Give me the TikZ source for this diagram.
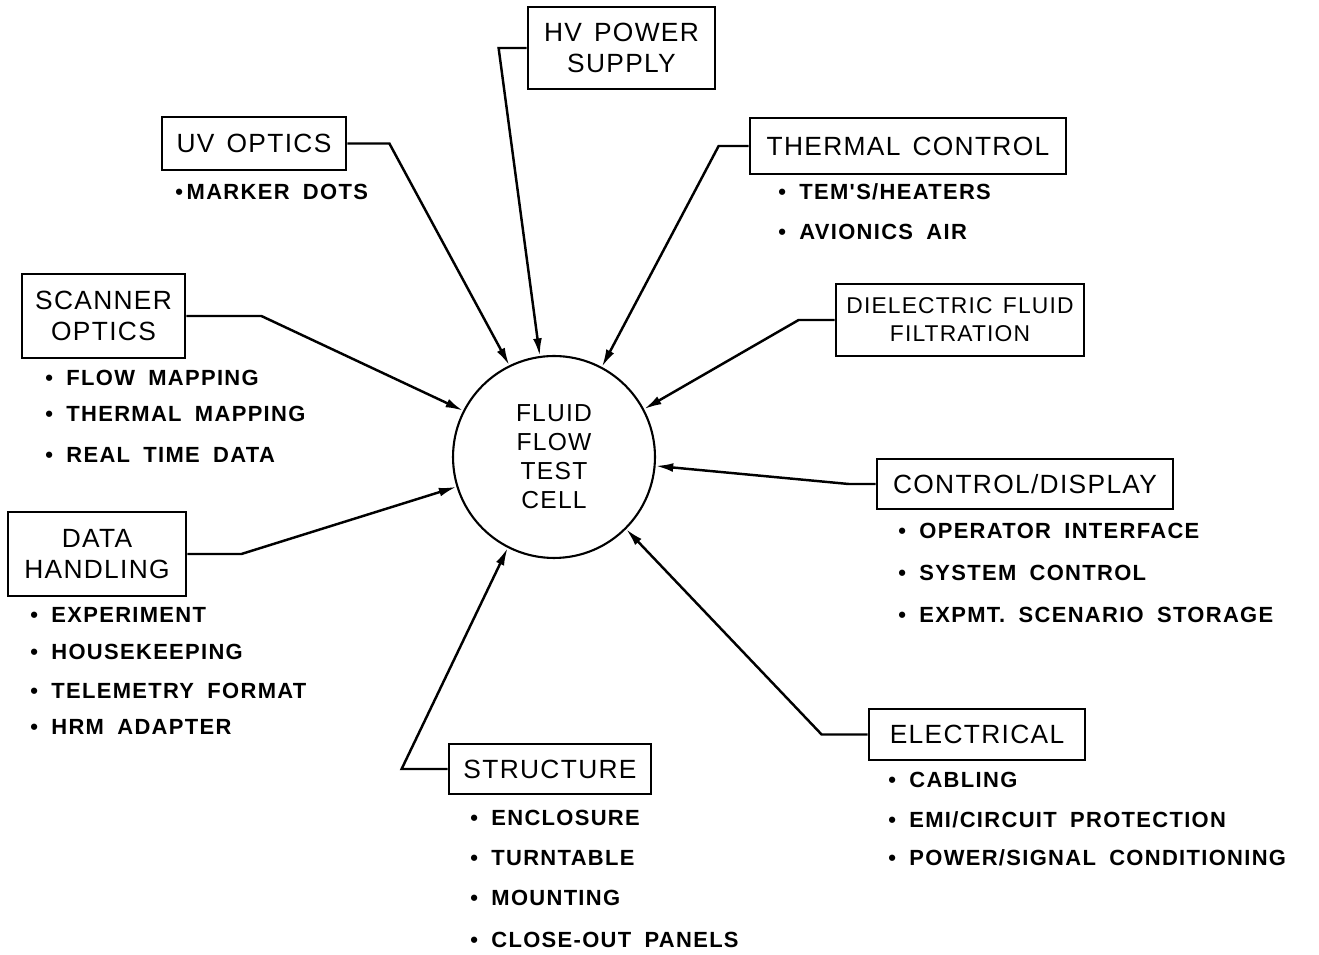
\documentclass[tikz,border=0pt]{standalone}
\usepackage{fontspec}
\setmainfont{Liberation Sans}
\newfontfamily\boxfont[LetterSpace=5,WordSpace=1.4]{Liberation Sans}
\newfontfamily\itemfont[LetterSpace=6,WordSpace=1.8]{Liberation Sans}
\usetikzlibrary{arrows.meta}
\begin{document}
\begin{tikzpicture}[x=0.02cm,y=-0.02cm,
  box/.style={draw,line width=1.6pt,inner sep=0pt,align=center,font=\boxfont\fontsize{15}{18}\selectfont},
  conn/.style={line width=1.4pt,-{Latex[length=10pt,width=5pt]}},
  item/.style={anchor=west,inner sep=0pt,font=\itemfont\fontsize{12.5}{14}\bfseries\selectfont}]
\useasboundingbox (0,0) rectangle (1319,955);
% centre
\node[circle,draw,line width=1.2pt,minimum size=4.04cm,inner sep=0pt,align=center,
  font=\boxfont\fontsize{14}{16.5}\selectfont] (cell) at (554,457) {FLUID\\FLOW\\TEST\\CELL};
% boxes
\node[box,minimum width=3.74cm,minimum height=1.64cm] (hv) at (621.5,48) {HV POWER\\SUPPLY};
\node[box,minimum width=3.68cm,minimum height=1.06cm] (uv) at (254,143.5) {UV OPTICS};
\node[box,minimum width=6.32cm,minimum height=1.12cm] (th) at (908,146) {THERMAL CONTROL};
\node[box,minimum width=3.26cm,minimum height=1.68cm] (sc) at (103.5,316) {SCANNER\\OPTICS};
\node[box,minimum width=3.56cm,minimum height=1.68cm] (dh) at (97,554) {DATA\\HANDLING};
\node[box,minimum width=4.96cm,minimum height=1.44cm,font=\boxfont\fontsize{13}{16}\selectfont] (df) at (960,320) {DIELECTRIC FLUID\\FILTRATION};
\node[box,minimum width=5.92cm,minimum height=1.0cm] (cd) at (1025,484) {CONTROL/DISPLAY};
\node[box,minimum width=4.32cm,minimum height=1.02cm] (el) at (977,734.5) {ELECTRICAL};
\node[box,minimum width=4.04cm,minimum height=1.0cm] (st) at (550,769) {STRUCTURE};
% connectors
\draw[conn] (hv.west) -- ++(-28,0) -- (cell.98.4);
\draw[conn] (uv.east) -- ++(42,0) -- (cell.116.8);
\draw[conn] (th.west) -- ++(-30,0) -- (cell.62.5);
\draw[conn] (sc.east) -- ++(75,0) -- (cell.153.4);
\draw[conn] (dh.east) -- ++(54,0) -- (cell.197.2);
\draw[conn] (df.west) -- ++(-36,0) -- (cell.28.3);
\draw[conn] (cd.west) -- ++(-27,0) -- (cell.-5.7);
\draw[conn] (el.west) -- ++(-46,0) -- (cell.-45.8);
\draw[conn] (st.west) -- ++(-46,0) -- (cell.243.2);
% items
\node[item] (uv1) at (175,192) {\textbullet\,MARKER DOTS};
\node[item] (th1) at (778,192) {\textbullet\ TEM'S/HEATERS};
\node[item] (th2) at (778,232) {\textbullet\ AVIONICS AIR};
\node[item] (sc1) at (45,378) {\textbullet\ FLOW MAPPING};
\node[item] (sc2) at (45,414) {\textbullet\ THERMAL MAPPING};
\node[item] (sc3) at (45,455) {\textbullet\ REAL TIME DATA};
\node[item] (dh1) at (30,615) {\textbullet\ EXPERIMENT};
\node[item] (dh2) at (30,652) {\textbullet\ HOUSEKEEPING};
\node[item] (dh3) at (30,691) {\textbullet\ TELEMETRY FORMAT};
\node[item] (dh4) at (30,727) {\textbullet\ HRM ADAPTER};
\node[item] (cd1) at (898,531) {\textbullet\ OPERATOR INTERFACE};
\node[item] (cd2) at (898,573) {\textbullet\ SYSTEM CONTROL};
\node[item] (cd3) at (898,615) {\textbullet\ EXPMT. SCENARIO STORAGE};
\node[item] (el1) at (888,780) {\textbullet\ CABLING};
\node[item] (el2) at (888,820) {\textbullet\ EMI/CIRCUIT PROTECTION};
\node[item] (el3) at (888,858) {\textbullet\ POWER/SIGNAL CONDITIONING};
\node[item] (st1) at (470,818) {\textbullet\ ENCLOSURE};
\node[item] (st2) at (470,858) {\textbullet\ TURNTABLE};
\node[item] (st3) at (470,898) {\textbullet\ MOUNTING};
\node[item] (st4) at (470,940) {\textbullet\ CLOSE-OUT PANELS};
\end{tikzpicture}
\end{document}
